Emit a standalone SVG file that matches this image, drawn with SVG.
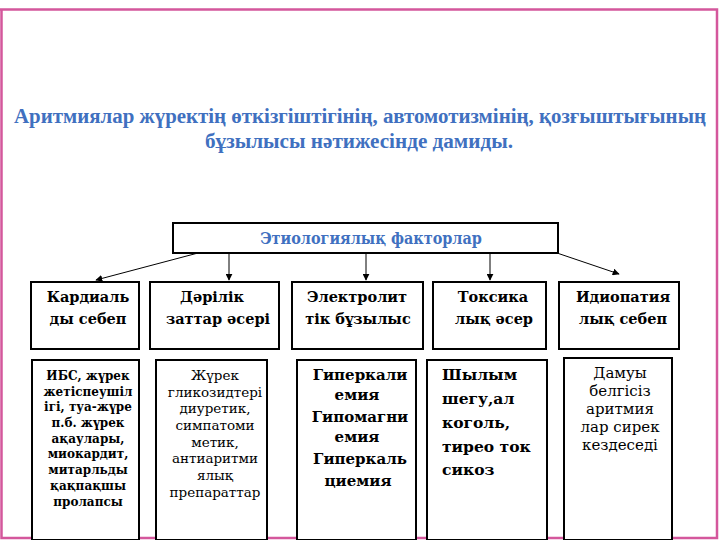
<svg xmlns="http://www.w3.org/2000/svg" width="720" height="540" viewBox="0 0 720 540">
<style>
.frame{fill:none;stroke:#d4579c;stroke-width:2.5}
.box{fill:#fff;stroke:#000;stroke-width:2}
text{font-family:"DejaVu Serif","Liberation Serif",serif;fill:#000}
.title{font-family:"Liberation Serif","DejaVu Serif",serif;font-weight:bold;fill:#4070c0;text-anchor:middle;font-size:20px}
.et{font-weight:bold;fill:#4070c0;text-anchor:middle;font-stretch:condensed;font-size:16px}
.h{font-weight:bold;font-size:14.5px;text-anchor:middle}
.b{font-weight:bold;font-size:12px;text-anchor:middle}
.b15{font-weight:bold;font-size:15px;text-anchor:middle}
.r{font-size:13.5px;text-anchor:middle}
.r15{font-size:15px;text-anchor:middle}
.l{font-weight:bold;font-size:15.5px}
.c{stroke:#000;stroke-width:1;fill:none;marker-end:url(#ah)}
</style>
<defs>
<marker id="ah" viewBox="0 0 10 10" refX="9" refY="5" markerWidth="7" markerHeight="7" markerUnits="userSpaceOnUse" orient="auto">
<path d="M0,0 L10,5 L0,10 z" fill="#000"/>
</marker>
</defs>
<rect width="720" height="540" fill="#fff"/>
<path class="frame" d="M0,9.5 H717 V538 H1.5 V9.5"/>
<g id="title">
<text class="title" x="360" y="123" textLength="692" lengthAdjust="spacingAndGlyphs">Аритмиялар жүректің өткізгіштігінің, автомотизмінің, қозғыштығының</text>
<text class="title" x="359" y="148" textLength="308" lengthAdjust="spacingAndGlyphs">бұзылысы нәтижесінде дамиды.</text>
</g>
<g id="connectors">
<line class="c" x1="198" y1="253" x2="96" y2="280"/>
<line class="c" x1="229" y1="253" x2="229" y2="280"/>
<line class="c" x1="366" y1="253" x2="366" y2="280"/>
<line class="c" x1="490" y1="253" x2="490" y2="280"/>
<line class="c" x1="557" y1="253" x2="619" y2="274"/>
</g>
<g id="etiology">
<rect class="box" x="173" y="223" width="385" height="30"/>
<text class="et" x="371" y="244">Этиологиялық факторлар</text>
</g>
<g id="h1"><rect class="box" x="31" y="282" width="108" height="67"/>
<text class="h" x="88" y="302">Кардиаль</text><text class="h" x="88" y="324">ды себеп</text></g>
<g id="h2"><rect class="box" x="150" y="282" width="129" height="67"/>
<text class="h" x="212" y="302">Дәрілік</text><text class="h" x="218" y="324">заттар әсері</text></g>
<g id="h3"><rect class="box" x="292" y="282" width="131" height="67"/>
<text class="h" x="357" y="302">Электролит</text><text class="h" x="358" y="324">тік бұзылыс</text></g>
<g id="h4"><rect class="box" x="433" y="282" width="113" height="67"/>
<text class="h" x="493" y="302">Токсика</text><text class="h" x="494" y="324">лық әсер</text></g>
<g id="h5"><rect class="box" x="559" y="282" width="120" height="67"/>
<text class="h" x="623" y="302">Идиопатия</text><text class="h" x="623" y="324">лық себеп</text></g>
<g id="d1"><rect class="box" x="32" y="360" width="107" height="180"/>
<text class="b" x="88" y="380">ИБС, жүрек</text>
<text class="b" x="88" y="396">жетіспеушіл</text>
<text class="b" x="88" y="411">ігі, туа-жүре</text>
<text class="b" x="88" y="427">п.б.  жүрек</text>
<text class="b" x="88" y="443">ақаулары,</text>
<text class="b" x="88" y="458">миокардит,</text>
<text class="b" x="88" y="474">митарльды</text>
<text class="b" x="88" y="490">қақпақшы</text>
<text class="b" x="88" y="506">пролапсы</text></g>
<g id="d2"><rect class="box" x="156" y="360" width="111" height="180"/>
<text class="r" x="215" y="380">Жүрек</text>
<text class="r" x="215" y="397">гликозидтері</text>
<text class="r" x="215" y="413">диуретик,</text>
<text class="r" x="215" y="430">симпатоми</text>
<text class="r" x="215" y="447">метик,</text>
<text class="r" x="215" y="463">антиаритми</text>
<text class="r" x="215" y="480">ялық</text>
<text class="r" x="215" y="497">препараттар</text></g>
<g id="d3"><rect class="box" x="297" y="360" width="119" height="180"/>
<text class="b15" x="360" y="380">Гиперкали</text>
<text class="b15" x="357" y="400">емия</text>
<text class="b15" x="360" y="422">Гипомагни</text>
<text class="b15" x="357" y="442">емия</text>
<text class="b15" x="360" y="464">Гиперкаль</text>
<text class="b15" x="358" y="486">циемия</text></g>
<g id="d4"><rect class="box" x="427" y="360" width="120" height="180"/>
<text class="l" x="442" y="380">Шылым</text>
<text class="l" x="442" y="404">шегу,ал</text>
<text class="l" x="442" y="428">коголь,</text>
<text class="l" x="442" y="452">тирео ток</text>
<text class="l" x="442" y="475">сикоз</text></g>
<g id="d5"><rect class="box" x="564" y="358" width="108" height="182"/>
<text class="r15" x="620" y="378">Дамуы</text>
<text class="r15" x="620" y="396">белгісіз</text>
<text class="r15" x="620" y="414">аритмия</text>
<text class="r15" x="620" y="432">лар сирек</text>
<text class="r15" x="620" y="450">кездеседі</text></g>
</svg>
